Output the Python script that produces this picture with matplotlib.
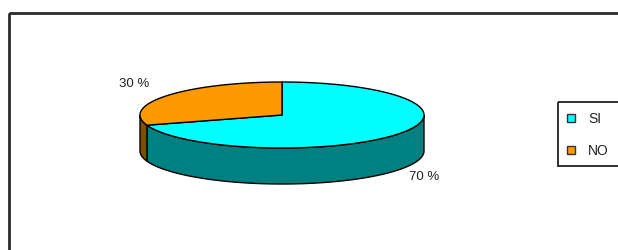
import numpy as np
import matplotlib.pyplot as plt
from matplotlib.patches import Polygon, Rectangle

# data
labels = ['SI', 'NO']
values = [70, 30]
top_colors = ['#00FFFF', '#FF9900']
side_colors = ['#008080', '#7F4C00']
pct_labels = ['70 %', '30 %']

plt.rcParams['font.family'] = ['Liberation Sans', 'DejaVu Sans']

fig = plt.figure(figsize=(6.18, 2.51), dpi=100)
ax = fig.add_axes([0, 0, 1, 1])
ax.set_xlim(0, 618)
ax.set_ylim(251, 0)
ax.axis('off')

# chart frame (runs off the right and bottom edges)
ax.add_patch(Rectangle((9, 14), 700, 300, fill=False, lw=2, ec='#2a2a2a'))

# pie geometry (pixels)
cx, cy, rx, ry, depth = 282, 116, 142, 33, 36


def ell(t):
    t = np.radians(t)
    return cx + rx * np.cos(t), cy - ry * np.sin(t)


# slice angle ranges: start at 12 o'clock, clockwise
total = float(sum(values))
ranges = []
a = 90.0
for v in values:
    b = a - 360.0 * v / total
    ranges.append((b, a))
    a = b

# side walls (front half only)
for (a0, a1), col in zip(ranges, side_colors):
    for k in (-1, 0, 1):
        lo = max(a0, -180 + 360 * k)
        hi = min(a1, 0 + 360 * k)
        if hi <= lo:
            continue
        t = np.linspace(lo, hi, 120)
        x, y = ell(t)
        pts = np.column_stack([np.r_[x, x[::-1]], np.r_[y, y[::-1] + depth]])
        ax.add_patch(Polygon(pts, closed=True, fc=col, ec='black', lw=1))

# top faces
for (a0, a1), col in zip(ranges, top_colors):
    t = np.linspace(a0, a1, 200)
    x, y = ell(t)
    pts = np.column_stack([np.r_[cx, x], np.r_[cy, y]])
    ax.add_patch(Polygon(pts, closed=True, fc=col, ec='black', lw=1))

# percentage labels
ax.text(424, 177, pct_labels[0], fontsize=9.5, color='#222222', ha='center', va='center')
ax.text(134, 84, pct_labels[1], fontsize=9.5, color='#222222', ha='center', va='center')

# legend
ax.add_patch(Rectangle((558, 103), 100, 64, fill=False, lw=1.3, ec='#222222'))
for i, (lab, col) in enumerate(zip(labels, top_colors)):
    yy = 119 + 32 * i
    ax.add_patch(Rectangle((567, yy - 4), 8, 8, fc=col, ec='#333333', lw=1))
    ax.text(588, yy, lab, fontsize=10, color='#222222', ha='left', va='center')

fig.savefig('out.png', dpi=100)
